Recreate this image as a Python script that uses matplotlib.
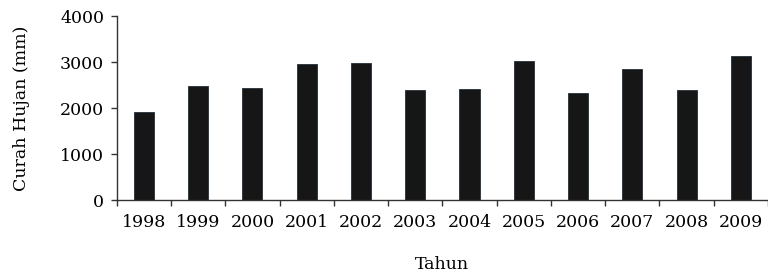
import numpy as np
import matplotlib.pyplot as plt

# Curah hujan tahunan (mm)
tahun = ['1998', '1999', '2000', '2001', '2002', '2003',
         '2004', '2005', '2006', '2007', '2008', '2009']
curah_hujan = [1905, 2485, 2440, 2950, 2985, 2390,
               2405, 3030, 2320, 2840, 2390, 3130]

plt.rcParams['font.family'] = ['DejaVu Serif']

fig = plt.figure(figsize=(7.68, 2.73), dpi=100)
ax = fig.add_axes([0.152, 0.267, 0.848, 0.674])

x = np.arange(len(tahun))
ax.bar(x, curah_hujan, width=0.37, color='#161616', edgecolor='#20303a', linewidth=0.6)

ax.set_xlim(-0.5, len(tahun) - 0.5)
ax.set_ylim(0, 4000)
ax.set_yticks([0, 1000, 2000, 3000, 4000])

# year labels centred under bars, tick marks between categories
ax.set_xticks(x)
ax.set_xticklabels(tahun, fontsize=12.5)
ax.tick_params(axis='x', which='major', length=0, pad=10)
ax.set_xticks(np.arange(-0.5, len(tahun)), minor=True)
ax.tick_params(axis='x', which='minor', length=4, width=1, direction='out', colors='#333333')
ax.tick_params(axis='y', labelsize=12.5, length=4, width=1, direction='out', colors='#333333', labelcolor='black', pad=5)

for side in ['top', 'right']:
    ax.spines[side].set_visible(False)
for side in ['left', 'bottom']:
    ax.spines[side].set_color('#333333')
    ax.spines[side].set_linewidth(1)

ax.set_xlabel('Tahun', fontsize=12.5, labelpad=18)
ax.set_ylabel('Curah Hujan (mm)', fontsize=12.5, labelpad=22)

fig.savefig('out.png', dpi=100)
